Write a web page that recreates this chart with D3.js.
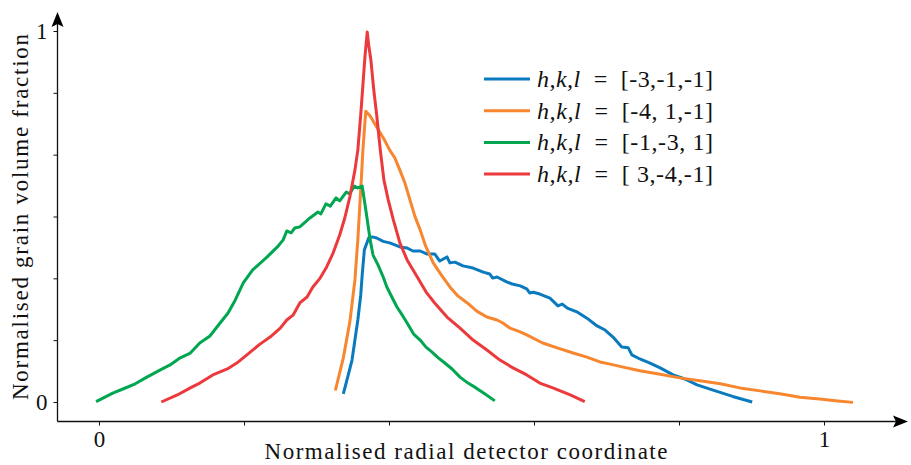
<!DOCTYPE html>
<html>
<head>
<meta charset="utf-8">
<script src="https://cdn.jsdelivr.net/npm/d3@7"></script>
<style>
  body { margin: 0; background: #fff; }
  svg { font-family: 'Liberation Serif', 'DejaVu Serif', serif; }
  .tick line, .axis-line { stroke: #111; }
</style>
</head>
<body>
<svg id="chart" width="911" height="465"></svg>
<script>
// series: [radial coordinate, grain volume fraction]
const series1 = [ // [-3,-1,-1]
  [0.337, 0.022], [0.343, 0.067], [0.349, 0.113], [0.353, 0.167], [0.357, 0.221],
  [0.361, 0.288], [0.363, 0.342], [0.366, 0.410], [0.372, 0.442], [0.377, 0.445],
  [0.383, 0.442], [0.392, 0.433], [0.401, 0.429], [0.415, 0.418], [0.425, 0.415],
  [0.433, 0.407], [0.443, 0.407], [0.452, 0.399], [0.463, 0.399], [0.470, 0.380],
  [0.480, 0.391], [0.484, 0.375], [0.491, 0.377], [0.502, 0.367], [0.516, 0.361],
  [0.530, 0.350], [0.539, 0.345], [0.543, 0.334], [0.549, 0.337], [0.563, 0.323],
  [0.570, 0.318], [0.581, 0.313], [0.590, 0.305], [0.594, 0.294], [0.599, 0.296],
  [0.608, 0.291], [0.622, 0.280], [0.633, 0.259], [0.639, 0.264], [0.646, 0.253],
  [0.659, 0.243], [0.673, 0.226], [0.687, 0.205], [0.698, 0.194], [0.709, 0.175],
  [0.721, 0.148], [0.730, 0.146], [0.735, 0.127], [0.746, 0.116], [0.760, 0.105],
  [0.774, 0.092], [0.792, 0.073], [0.808, 0.062], [0.825, 0.046], [0.847, 0.032],
  [0.874, 0.015], [0.901, 0.000]
]

const series2 = [ // [-4, 1,-1]
  [0.326, 0.031], [0.337, 0.119], [0.346, 0.216], [0.353, 0.329], [0.357, 0.437],
  [0.361, 0.571], [0.364, 0.679], [0.367, 0.760], [0.368, 0.784], [0.374, 0.771],
  [0.383, 0.741], [0.393, 0.709], [0.401, 0.679], [0.408, 0.658], [0.415, 0.625],
  [0.422, 0.590], [0.429, 0.544], [0.436, 0.499], [0.443, 0.464], [0.450, 0.423],
  [0.461, 0.375], [0.473, 0.340], [0.484, 0.310], [0.495, 0.286], [0.508, 0.267],
  [0.521, 0.245], [0.535, 0.229], [0.549, 0.221], [0.557, 0.213], [0.567, 0.199],
  [0.581, 0.189], [0.590, 0.181], [0.612, 0.159], [0.632, 0.146], [0.654, 0.132],
  [0.673, 0.121], [0.691, 0.108], [0.705, 0.102], [0.723, 0.094], [0.746, 0.084],
  [0.774, 0.075], [0.801, 0.065], [0.829, 0.057], [0.857, 0.049], [0.884, 0.038],
  [0.912, 0.030], [0.939, 0.022], [0.967, 0.013], [0.994, 0.008], [1.019, 0.003],
  [1.040, -0.001]
]

const series3 = [ // [-1,-3, 1]
  [-0.004, 0.001], [0.019, 0.024], [0.033, 0.035], [0.050, 0.049], [0.066, 0.067],
  [0.084, 0.086], [0.098, 0.100], [0.112, 0.119], [0.126, 0.132], [0.139, 0.159],
  [0.153, 0.178], [0.167, 0.213], [0.178, 0.240], [0.188, 0.275], [0.199, 0.321],
  [0.212, 0.356], [0.232, 0.391], [0.246, 0.418], [0.254, 0.437], [0.259, 0.461],
  [0.265, 0.456], [0.270, 0.469], [0.277, 0.472], [0.291, 0.496], [0.302, 0.512],
  [0.306, 0.507], [0.313, 0.534], [0.319, 0.528], [0.327, 0.550], [0.332, 0.542],
  [0.341, 0.566], [0.346, 0.561], [0.352, 0.582], [0.357, 0.577], [0.363, 0.582],
  [0.367, 0.531], [0.370, 0.491], [0.374, 0.437], [0.378, 0.396], [0.385, 0.369],
  [0.392, 0.337], [0.397, 0.310], [0.406, 0.275], [0.411, 0.256], [0.419, 0.232],
  [0.425, 0.213], [0.434, 0.183], [0.443, 0.167], [0.451, 0.148], [0.459, 0.135],
  [0.468, 0.119], [0.477, 0.105], [0.487, 0.089], [0.498, 0.067], [0.509, 0.051],
  [0.520, 0.038], [0.532, 0.022], [0.546, 0.003]
]

const series4 = [ // [ 3,-4,-1]
  [0.086, 0.000], [0.108, 0.019], [0.126, 0.038], [0.139, 0.051], [0.157, 0.073],
  [0.177, 0.089], [0.190, 0.105], [0.204, 0.127], [0.222, 0.156], [0.236, 0.175],
  [0.250, 0.199], [0.259, 0.221], [0.268, 0.235], [0.277, 0.267], [0.287, 0.283],
  [0.295, 0.310], [0.305, 0.334], [0.314, 0.364], [0.323, 0.402], [0.332, 0.450],
  [0.339, 0.496], [0.346, 0.553], [0.353, 0.625], [0.357, 0.679], [0.361, 0.774],
  [0.364, 0.854], [0.367, 0.935], [0.370, 0.997], [0.372, 0.962], [0.375, 0.922],
  [0.379, 0.841], [0.383, 0.774], [0.388, 0.679], [0.393, 0.598], [0.399, 0.544],
  [0.406, 0.491], [0.415, 0.429], [0.425, 0.383], [0.439, 0.337], [0.452, 0.294],
  [0.463, 0.267], [0.480, 0.229], [0.498, 0.199], [0.516, 0.167], [0.535, 0.140],
  [0.553, 0.113], [0.571, 0.092], [0.590, 0.073], [0.608, 0.051], [0.626, 0.038],
  [0.650, 0.019], [0.670, 0.001]
]

const hkl = ['[-3,-1,-1]', '[-4, 1,-1]', '[-1,-3, 1]', '[ 3,-4,-1]']
const colors = ['#0a7abf', '#f7862f', '#00a650', '#ec3a3c']
const xTicks = [0, 0.2, 0.4, 0.6, 0.8, 1]
const yTicks = [0, 1 / 6, 2 / 6, 3 / 6, 4 / 6, 5 / 6, 1]
const tickLabels = {0: '0', 1: '1'}

const svg = d3.select('#chart')

const x = d3.scaleLinear().domain([0, 1]).range([99, 824])
const y = d3.scaleLinear().domain([0, 1]).range([402, 31])

const axisY = 421.5
const axisX = 57.5

// axis lines with arrow heads
svg.append('line')
    .attr('class', 'axis-line')
    .attr('x1', axisX).attr('x2', 900)
    .attr('y1', axisY).attr('y2', axisY)
    .attr('stroke-width', 1.3)
svg.append('line')
    .attr('class', 'axis-line')
    .attr('x1', axisX).attr('x2', axisX)
    .attr('y1', axisY).attr('y2', 20)
    .attr('stroke-width', 1.3)
svg.append('path')
    .attr('d', `M908,${axisY} L893,${axisY - 6} L896,${axisY} L893,${axisY + 6} Z`)
    .attr('fill', '#000')
svg.append('path')
    .attr('d', `M${axisX},12 L${axisX - 6},27 L${axisX},24 L${axisX + 6},27 Z`)
    .attr('fill', '#000')

const xAxis = d3.axisBottom(x)
    .tickValues(xTicks)
    .tickSize(4)
    .tickPadding(5)
    .tickFormat(d => tickLabels[d] || '')

const yAxis = d3.axisLeft(y)
    .tickValues(yTicks)
    .tickSize(4)
    .tickPadding(6)
    .tickFormat(d => tickLabels[d] || '')

const gx = svg.append('g')
    .attr('transform', `translate(0,${axisY})`)
    .call(xAxis)
gx.select('.domain').remove()

const gy = svg.append('g')
    .attr('transform', `translate(${axisX},0)`)
    .call(yAxis)
gy.select('.domain').remove()

svg.selectAll('.tick text')
    .attr('font-family', "'Liberation Serif', serif")
    .attr('font-size', 23)
    .attr('fill', '#111')

// axis titles
svg.append('text')
    .attr('x', 466)
    .attr('y', 459)
    .attr('text-anchor', 'middle')
    .attr('font-size', 23)
    .attr('textLength', 403)
    .attr('lengthAdjust', 'spacing')
    .attr('fill', '#111')
    .text('Normalised radial detector coordinate')

svg.append('text')
    .attr('transform', 'translate(28,217) rotate(-90)')
    .attr('text-anchor', 'middle')
    .attr('font-size', 23)
    .attr('textLength', 366)
    .attr('lengthAdjust', 'spacing')
    .attr('fill', '#111')
    .text('Normalised grain volume fraction')

// curves
const line = d3.line()
    .x(d => x(d[0]))
    .y(d => y(d[1]))

const allSeries = [series1, series2, series3, series4]

svg.selectAll('.curve')
    .data(allSeries)
  .enter().append('path')
    .attr('class', 'curve')
    .attr('d', line)
    .attr('fill', 'none')
    .attr('stroke', (d, i) => colors[i])
    .attr('stroke-width', 3)
    .attr('stroke-linejoin', 'round')
    .attr('stroke-linecap', 'butt')

// legend
const legend = svg.append('g')
    .attr('transform', 'translate(484,79)')

const rows = legend.selectAll('.row')
    .data(hkl)
  .enter().append('g')
    .attr('class', 'row')
    .attr('transform', (d, i) => `translate(0,${i * 31.7})`)

rows.append('line')
    .attr('x1', 0).attr('x2', 46)
    .attr('y1', 0).attr('y2', 0)
    .attr('stroke', (d, i) => colors[i])
    .attr('stroke-width', 3)

const label = rows.append('text')
    .attr('x', 53)
    .attr('y', 8)
    .attr('font-size', 24)
    .attr('fill', '#111')
    .attr('textLength', 176)
    .attr('lengthAdjust', 'spacing')
    .style('white-space', 'pre')

label.append('tspan')
    .attr('font-style', 'italic')
    .text('h,k,l')
label.append('tspan')
    .text(d => '  =  ' + d)
</script>
</body>
</html>
